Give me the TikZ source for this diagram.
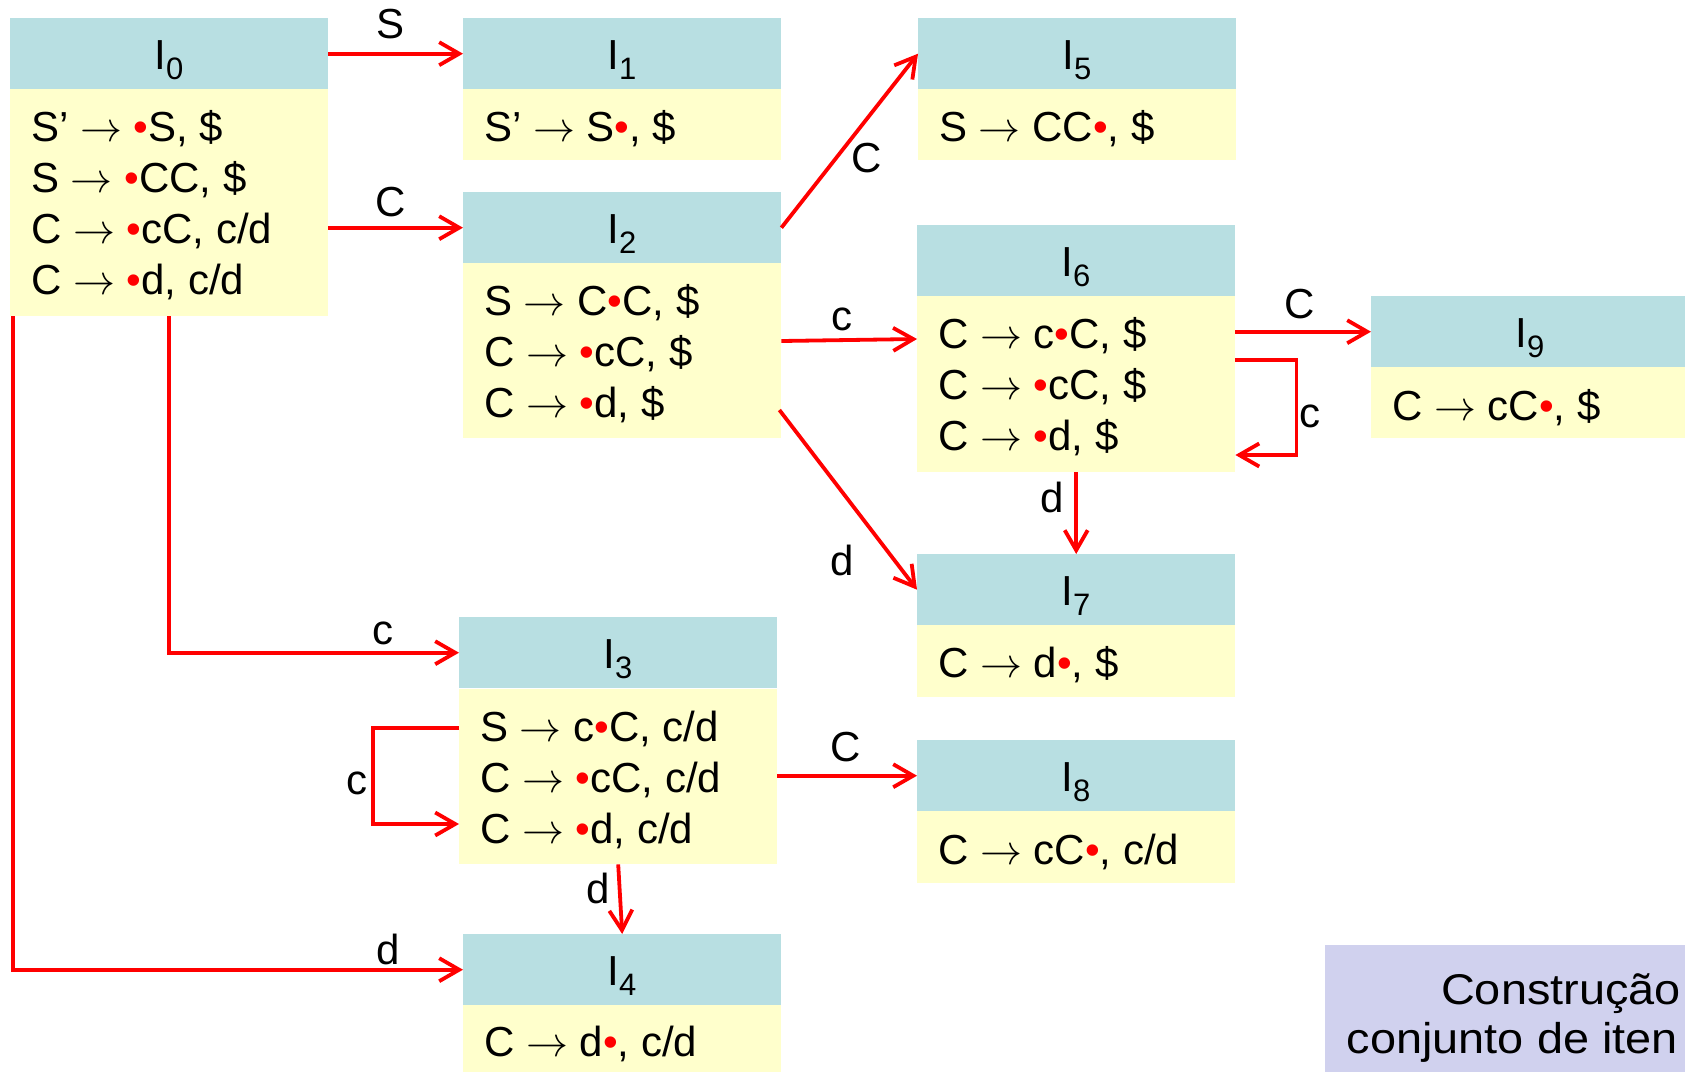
\RequirePackage{fix-cm}
\documentclass[tikz,border=0pt]{standalone}
\usepackage{fontspec}
\setmainfont{Liberation Sans}
\usetikzlibrary{arrows.meta,calc}
\definecolor{hdrcol}{RGB}{184,223,226}
\definecolor{bodycol}{RGB}{255,255,204}
\definecolor{lavcol}{RGB}{208,209,238}
\definecolor{arrred}{RGB}{255,0,0}
\newcommand\myrd{\textcolor{arrred}{•}}
\newcommand\myra{$\rightarrow$}
\newcommand\mysub[1]{\raisebox{-10pt}{\fontsize{31}{31}\selectfont #1}}
\begin{document}
\begin{tikzpicture}[x=1pt,y=-1pt,
  every node/.style={font=\fontsize{42}{50}\selectfont, inner sep=0pt},
  hdr/.style={fill=hdrcol, minimum width=318pt, minimum height=71pt, anchor=north west, inner sep=0pt},
  bdy/.style={fill=bodycol, minimum width=318pt, anchor=north west, inner sep=0pt},
  ln/.style={anchor=base west},
  hd/.style={anchor=base},
  captxt/.style={anchor=base east, font=\fontsize{43}{50}\selectfont},
  edge/.style={draw=arrred, line width=3.8pt, -{Straight Barb[length=20pt,width=23pt]}}]
\useasboundingbox (0,0) rectangle (1685,1071);
\clip (0,0) rectangle (1685,1071);
% I0
\node[hdr] (h0) at (10,18) {};
\node[bdy, minimum height=227pt] (b0) at (10,89) {};
\node[hd] (t0) at (169,69) {I\mysub{0}};
\node[ln] (l0a) at (31,141) {S’ \myra{} \myrd S, \$};
\node[ln] (l0b) at (31,192) {S \myra{} \myrd CC, \$};
\node[ln] (l0c) at (31,243) {C \myra{} \myrd cC, c/d};
\node[ln] (l0d) at (31,294) {C \myra{} \myrd d, c/d};
% I1
\node[hdr] (h1) at (463,18) {};
\node[bdy, minimum height=71pt] (b1) at (463,89) {};
\node[hd] (t1) at (622,69) {I\mysub{1}};
\node[ln] (l1a) at (484,141) {S’ \myra{} S\myrd, \$};
% I2
\node[hdr] (h2) at (463,192) {};
\node[bdy, minimum height=175pt] (b2) at (463,263) {};
\node[hd] (t2) at (622,243) {I\mysub{2}};
\node[ln] (l2a) at (484,315) {S \myra{} C\myrd C, \$};
\node[ln] (l2b) at (484,366) {C \myra{} \myrd cC, \$};
\node[ln] (l2c) at (484,417) {C \myra{} \myrd d, \$};
% I3
\node[hdr] (h3) at (459,617) {};
\node[bdy, minimum height=175pt] (b3) at (459,689) {};
\node[hd] (t3) at (618,668) {I\mysub{3}};
\node[ln] (l3a) at (480,741) {S \myra{} c\myrd C, c/d};
\node[ln] (l3b) at (480,792) {C \myra{} \myrd cC, c/d};
\node[ln] (l3c) at (480,843) {C \myra{} \myrd d, c/d};
% I4
\node[hdr] (h4) at (463,934) {};
\node[bdy, minimum height=72pt] (b4) at (463,1005) {};
\node[hd] (t4) at (622,985) {I\mysub{4}};
\node[ln] (l4a) at (484,1056) {C \myra{} d\myrd, c/d};
% I5
\node[hdr] (h5) at (918,18) {};
\node[bdy, minimum height=71pt] (b5) at (918,89) {};
\node[hd] (t5) at (1077,69) {I\mysub{5}};
\node[ln] (l5a) at (939,141) {S \myra{} CC\myrd, \$};
% I6
\node[hdr] (h6) at (917,225) {};
\node[bdy, minimum height=176pt] (b6) at (917,296) {};
\node[hd] (t6) at (1076,276) {I\mysub{6}};
\node[ln] (l6a) at (938,348) {C \myra{} c\myrd C, \$};
\node[ln] (l6b) at (938,399) {C \myra{} \myrd cC, \$};
\node[ln] (l6c) at (938,450) {C \myra{} \myrd d, \$};
% I7
\node[hdr] (h7) at (917,554) {};
\node[bdy, minimum height=72pt] (b7) at (917,625) {};
\node[hd] (t7) at (1076,605) {I\mysub{7}};
\node[ln] (l7a) at (938,677) {C \myra{} d\myrd, \$};
% I8
\node[hdr] (h8) at (917,740) {};
\node[bdy, minimum height=72pt] (b8) at (917,811) {};
\node[hd] (t8) at (1076,791) {I\mysub{8}};
\node[ln] (l8a) at (938,864) {C \myra{} cC\myrd, c/d};
% I9
\node[hdr] (h9) at (1371,296) {};
\node[bdy, minimum height=71pt] (b9) at (1371,367) {};
\node[hd] (t9) at (1530,347) {I\mysub{9}};
\node[ln] (l9a) at (1392,420) {C \myra{} cC\myrd, \$};
% caption box
\node[fill=lavcol, anchor=north west, minimum width=380pt, minimum height=140pt] (cbox) at (1325,945) {};
\node[captxt] (ct1) at (1681,1004) {\scalebox{1.09}[1]{Construção}};
\node[captxt] (ct2) at (1678,1053) {\scalebox{1.09}[1]{conjunto de iten}};
% connectors
\draw[edge] (h0.east) -- (h1.west);
\draw[edge] (b0.east |- h2.west) -- (h2.west);
\draw[edge] (h2.east) -- (h5.west);
\draw[edge] ($(b2.north east)+(0,78)$) -- ($(b6.north west)+(0,43)$);
\draw[edge] ($(b2.north east)+(-2,147)$) -- (h7.west);
\draw[edge] (b6.east |- h9.west) -- (h9.west);
\draw[edge] ($(b6.north east)+(0,64)$) -- ++(61,0) |- ($(b6.north east)+(0,159)$);
\draw[edge] (b6.south) -- (h7.north);
\draw[edge] (b0.south) |- (h3.west);
\draw[edge] ($(b0.south west)+(3,0)$) |- (h4.west);
\draw[edge] ($(b3.north west)+(0,39)$) -- ++(-86,0) |- ($(b3.north west)+(0,135)$);
\draw[edge] (b3.east |- h8.west) -- (h8.west);
\draw[edge] (b3.south) -- (h4.north);
% edge labels
\node (eS) at (391,24) {S};
\node (eC1) at (391,202) {C};
\node (eC2) at (867,158) {C};
\node (ec3) at (842,319) {c};
\node (ed4) at (842,560) {d};
\node (eC5) at (1300,304) {C};
\node (ec6) at (1310,416) {c};
\node (ed7) at (1052,497) {d};
\node (ec8) at (383,633) {c};
\node (ec9) at (357,783) {c};
\node (eC10) at (846,747) {C};
\node (ed11) at (598,888) {d};
\node (ed12) at (388,949) {d};
\end{tikzpicture}
\end{document}
